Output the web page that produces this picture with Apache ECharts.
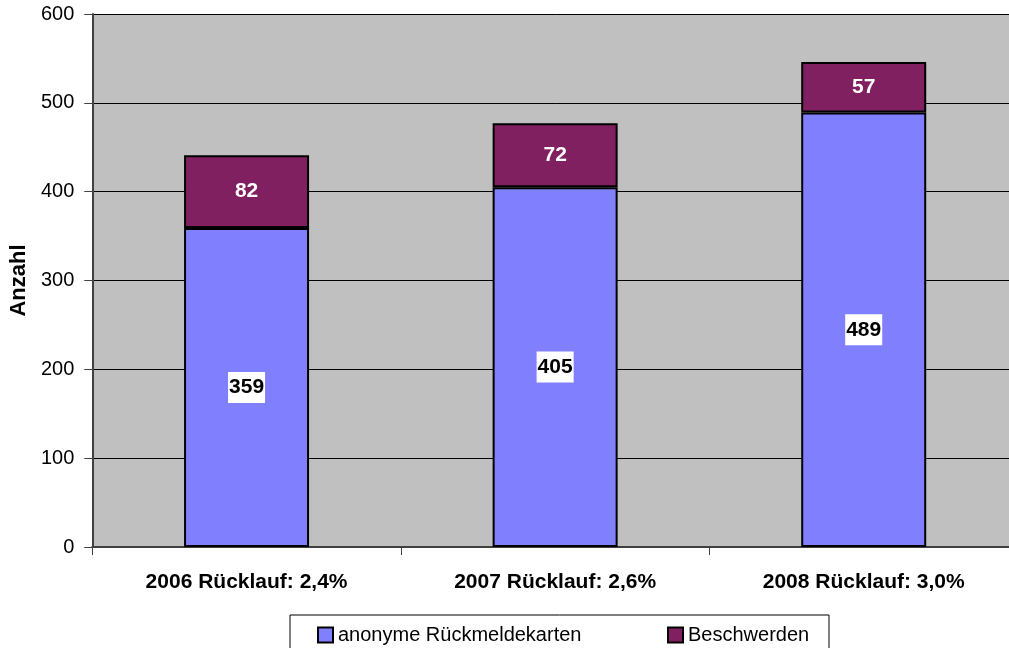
<!DOCTYPE html>
<html>
<head>
<meta charset="utf-8">
<script src="https://cdn.jsdelivr.net/npm/echarts@6/dist/echarts.min.js"></script>
<style>
html,body{margin:0;padding:0;background:#fff;overflow:hidden;width:1009px;height:648px;}
#c{width:1018px;height:648px;}
</style>
</head>
<body>
<div id="c"></div>
<script>
const categories = ['2006 Rücklauf: 2,4%', '2007 Rücklauf: 2,6%', '2008 Rücklauf: 3,0%'];
const anonymeValues = [359, 405, 489];
const beschwerdenValues = [82, 72, 57];
const yTicks = [0, 100, 200, 300, 400, 500, 600];
const seriesNames = ['anonyme Rückmeldekarten', 'Beschwerden'];

const FONT = 'Liberation Sans, Arial, sans-serif';
const chart = echarts.init(document.getElementById('c'));
chart.setOption({
  animation: false,
  backgroundColor: '#ffffff',
  textStyle: { fontFamily: FONT },
  grid: { left: 91, right: 0, top: 14, bottom: 101, containLabel: false, show: true, backgroundColor: '#c0c0c0', borderWidth: 0 },
  legend: {
    left: 290, top: 615,
    orient: 'horizontal',
    backgroundColor: '#ffffff',
    borderColor: '#000000',
    borderWidth: 1,
    padding: [10, 5, 10, 27],
    itemWidth: 15, itemHeight: 15, itemGap: 37,
    icon: 'rect',
    data: seriesNames,
    formatter: function (name) {
      return name === seriesNames[0] ? '{a|' + name + '}' : '{b|' + name + '}';
    },
    textStyle: {
      fontFamily: FONT, fontSize: 20, color: '#000',
      rich: {
        a: { fontFamily: FONT, fontSize: 20, color: '#000', width: 292, lineHeight: 22 },
        b: { fontFamily: FONT, fontSize: 20, color: '#000', width: 136, lineHeight: 22 }
      }
    }
  },
  xAxis: {
    type: 'category',
    data: categories,
    axisLine: { lineStyle: { color: '#404040', width: 2 } },
    axisTick: { show: true, length: 8, lineStyle: { color: '#404040', width: 1 } },
    axisLabel: { fontFamily: FONT, fontSize: 21, fontWeight: 'bold', color: '#000', margin: 25 }
  },
  yAxis: {
    type: 'value',
    min: yTicks[0], max: yTicks[yTicks.length - 1], interval: 100,
    name: 'Anzahl',
    nameLocation: 'middle',
    nameGap: 62,
    nameRotate: 90,
    nameTextStyle: { fontFamily: FONT, fontSize: 22, fontWeight: 'bold', color: '#000' },
    axisLine: { show: true, lineStyle: { color: '#404040', width: 2 } },
    axisTick: { show: true, length: 8, lineStyle: { color: '#404040', width: 1 } },
    axisLabel: { fontFamily: FONT, fontSize: 20, color: '#000', margin: 18 },
    splitLine: { show: true, lineStyle: { color: '#000000', width: 1 } }
  },
  series: [
    {
      name: seriesNames[0],
      type: 'bar',
      stack: 'total',
      barWidth: 125,
      data: anonymeValues,
      itemStyle: { color: '#8080ff', borderColor: '#000', borderWidth: 2 },
      label: {
        show: true, position: 'inside',
        fontFamily: FONT, fontSize: 21, fontWeight: 'bold', color: '#000',
        backgroundColor: '#ffffff', padding: [4, 1, 2, 1], lineHeight: 25
      }
    },
    {
      name: seriesNames[1],
      type: 'bar',
      stack: 'total',
      barWidth: 125,
      data: beschwerdenValues,
      itemStyle: { color: '#802060', borderColor: '#000', borderWidth: 2 },
      label: {
        show: true, position: 'inside',
        fontFamily: FONT, fontSize: 21, fontWeight: 'bold', color: '#ffffff'
      }
    }
  ]
});
</script>
</body>
</html>
